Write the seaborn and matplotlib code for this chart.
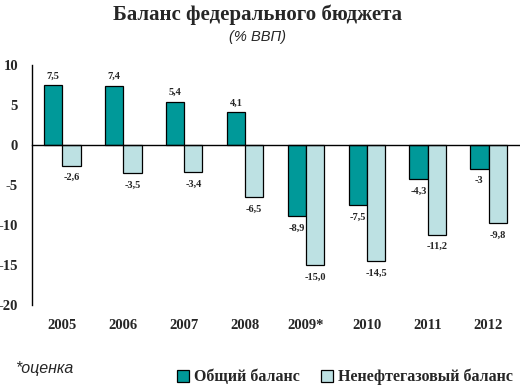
import matplotlib.pyplot as plt
import matplotlib.transforms as mtransforms
import numpy as np
import pandas as pd
import seaborn as sns

# Data
years = ['2005', '2006', '2007', '2008', '2009*', '2010', '2011', '2012']
total_balance = [7.5, 7.4, 5.4, 4.1, -8.9, -7.5, -4.3, -3.0]
nonoil_balance = [-2.6, -3.5, -3.4, -6.5, -15.0, -14.5, -11.2, -9.8]
total_labels = ['7,5', '7,4', '5,4', '4,1', '-8,9', '-7,5', '-4,3', '-3']
nonoil_labels = ['-2,6', '-3,5', '-3,4', '-6,5', '-15,0', '-14,5', '-11,2', '-9,8']
series_names = ['Общий баланс', 'Ненефтегазовый баланс']
colors = ['#009999', '#BDE1E3']

df = pd.DataFrame({
    'year': years * 2,
    'value': total_balance + nonoil_balance,
    'series': [series_names[0]] * len(years) + [series_names[1]] * len(years),
})

sns.set_style('white')
plt.rcParams['font.family'] = ['Liberation Serif', 'DejaVu Serif']
plt.rcParams['axes.unicode_minus'] = False

fig = plt.figure(figsize=(5.2, 3.87), dpi=100)
ax = fig.add_axes([32 / 520, 1 - 305 / 387, 487 / 520, 240 / 387])

sns.barplot(data=df, x='year', y='value', hue='series', palette=colors, saturation=1,
            width=0.6, edgecolor='black', linewidth=0.9, ax=ax, legend=False)

ax.set_ylim(-20, 10)
ax.set_xlim(-0.5, len(years) - 0.5)
ax.set_yticks(np.arange(-20, 11, 5))
ax.set_yticklabels([str(v) for v in range(-20, 11, 5)], fontweight='bold', fontsize=10.5)
ax.set_xticks(np.arange(-0.5, len(years), 1))
ax.set_xticklabels([])
ax.set_xlabel('')
ax.set_ylabel('')

for s in ['top', 'right']:
    ax.spines[s].set_visible(False)
ax.spines['bottom'].set_position(('data', 0))
ax.spines['bottom'].set_color('black')
ax.spines['left'].set_color('black')
ax.spines['bottom'].set_linewidth(1.0)
ax.spines['left'].set_linewidth(1.0)
ax.tick_params(axis='both', direction='out', length=4, width=1, color='black', pad=3)
ax.tick_params(axis='y', pad=6)

# Year labels below the plot
trans = mtransforms.blended_transform_factory(ax.transData, ax.transAxes)
for i, yr in enumerate(years):
    ax.text(i, -0.085, yr, transform=trans, ha='center', va='center',
            fontsize=10.5, fontweight='bold')

# Value labels
for container, labels in zip(ax.containers, [total_labels, nonoil_labels]):
    for bar, lab in zip(container, labels):
        h = bar.get_height()
        x = bar.get_x() + bar.get_width() / 2
        off = 6.5 if h >= 0 else -8.5
        ax.annotate(lab, (x, h), xytext=(0, off), textcoords='offset points',
                    ha='center', va='center', fontsize=7.5, fontweight='bold')

# Titles
fig.text(0.495, 1 - 15 / 387, 'Баланс федерального бюджета', ha='center', va='center',
         fontsize=15, fontweight='bold')
fig.text(0.495, 1 - 37 / 387, '(% ВВП)', ha='center', va='center',
         fontsize=10.5, fontstyle='italic', family=['Liberation Sans', 'DejaVu Sans'])
fig.text(15 / 520, 1 - 369 / 387, '*оценка', ha='left', va='center',
         fontsize=11.5, fontstyle='italic', family=['Liberation Sans', 'DejaVu Sans'])

# Legend
handles = [plt.Rectangle((0, 0), 1, 1, facecolor=c, edgecolor='black', linewidth=0.9)
           for c in colors]
fig.legend(handles, series_names, loc='center', bbox_to_anchor=(345 / 520, 1 - 377 / 387),
           ncol=2, frameon=False, handlelength=0.75, handleheight=0.75,
           handletextpad=0.35, columnspacing=1.3,
           prop={'weight': 'bold', 'size': 11.5})

fig.savefig('out.png', dpi=100)
